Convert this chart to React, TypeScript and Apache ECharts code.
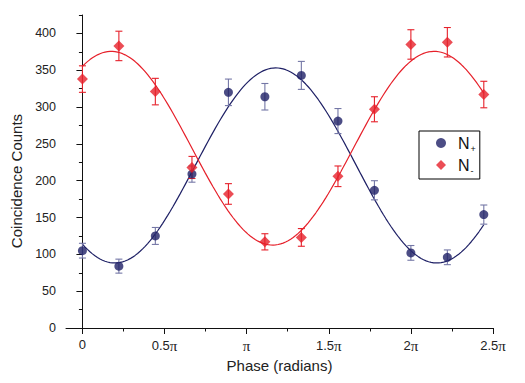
import React, { useEffect, useRef } from "react";
import * as echarts from "echarts";

// Phase in units of π
const phase = [0, 0.222, 0.444, 0.667, 0.889, 1.111, 1.333, 1.556, 1.778, 2.0, 2.222, 2.444];
const nPlus = [105, 84, 125, 209, 320, 314, 343, 281, 187, 102, 96, 154];
const nPlusErr = [10, 9.5, 11.5, 11, 18, 18, 19, 17, 13, 10, 10, 13];
const nMinus = [338, 383, 321, 218, 182, 117, 123, 206, 297, 385, 388, 317];
const nMinusErr = [18, 20, 18, 15, 14, 11, 12, 14, 17, 20, 20, 18];
const xTickValues = [0, 0.5, 1, 1.5, 2, 2.5];
const xTickLabels = ["0", "0.5π", "π", "1.5π", "2π", "2.5π"];
const xMinorValues = [0.25, 0.75, 1.25, 1.75, 2.25];
const yTickValues = [0, 50, 100, 150, 200, 250, 300, 350, 400];
const yMinorValues = [25, 75, 125, 175, 225, 275, 325, 375, 425];

const BLUE = "#1f2166";
const BLUE_ERR = "#7477a6";
const RED = "#e6202a";
const FONT = "Liberation Sans, Arial, sans-serif";
const SERIF = "Liberation Serif, Times New Roman, serif";

function solve3(M: number[][], v: number[]): number[] {
  const det = (m: number[][]) =>
    m[0][0] * (m[1][1] * m[2][2] - m[1][2] * m[2][1]) -
    m[0][1] * (m[1][0] * m[2][2] - m[1][2] * m[2][0]) +
    m[0][2] * (m[1][0] * m[2][1] - m[1][1] * m[2][0]);
  const D = det(M);
  const res: number[] = [];
  for (let c = 0; c < 3; c++) {
    const m = M.map((row, r) => row.map((val, j) => (j === c ? v[r] : val)));
    res.push(det(m) / D);
  }
  return res;
}

// Weighted least-squares sinusoid fit y = a + b cos(kπx) + c sin(kπx), scanning k
function fitSine(xs: number[], ys: number[], errs: number[]) {
  let best: { k: number; p: number[]; sse: number } | null = null;
  for (let k = 0.8; k <= 1.3; k += 0.0005) {
    const M = [[0, 0, 0], [0, 0, 0], [0, 0, 0]];
    const v = [0, 0, 0];
    xs.forEach((x, i) => {
      const w = 1 / (errs[i] * errs[i]);
      const f = [1, Math.cos(k * Math.PI * x), Math.sin(k * Math.PI * x)];
      for (let a = 0; a < 3; a++) {
        for (let b = 0; b < 3; b++) M[a][b] += w * f[a] * f[b];
        v[a] += w * f[a] * ys[i];
      }
    });
    const p = solve3(M, v);
    let sse = 0;
    xs.forEach((x, i) => {
      const y = p[0] + p[1] * Math.cos(k * Math.PI * x) + p[2] * Math.sin(k * Math.PI * x);
      sse += ((y - ys[i]) / errs[i]) ** 2;
    });
    if (!best || sse < best.sse) best = { k, p, sse };
  }
  return best!;
}

function fitCurve(xs: number[], ys: number[], errs: number[]) {
  const { k, p } = fitSine(xs, ys, errs);
  const x0 = xs[0];
  const x1 = xs[xs.length - 1];
  const out: number[][] = [];
  const n = 160;
  for (let i = 0; i <= n; i++) {
    const x = x0 + ((x1 - x0) * i) / n;
    out.push([x, p[0] + p[1] * Math.cos(k * Math.PI * x) + p[2] * Math.sin(k * Math.PI * x)]);
  }
  return out;
}

function errorSeries(ys: number[], errs: number[], color: string) {
  return {
    type: "custom",
    silent: true,
    z: 2,
    data: phase.map((x, i) => [x, ys[i] - errs[i], ys[i] + errs[i]]),
    renderItem: (_params: any, api: any) => {
      const x = api.value(0);
      const lo = api.coord([x, api.value(1)]);
      const hi = api.coord([x, api.value(2)]);
      const hw = 3.5;
      const style = { stroke: color, lineWidth: 1.1 };
      return {
        type: "group",
        children: [
          { type: "line", shape: { x1: lo[0], y1: lo[1], x2: hi[0], y2: hi[1] }, style },
          { type: "line", shape: { x1: lo[0] - hw, y1: lo[1], x2: lo[0] + hw, y2: lo[1] }, style },
          { type: "line", shape: { x1: hi[0] - hw, y1: hi[1], x2: hi[0] + hw, y2: hi[1] }, style },
        ],
      };
    },
  };
}

function piLabel(v: number) {
  const idx = xTickValues.findIndex((t) => Math.abs(t - v) < 1e-6);
  if (idx < 0) return "";
  const s = xTickLabels[idx];
  if (!s.endsWith("π")) return `{a|${s}}`;
  const num = s.slice(0, -1);
  return num ? `{a|${num}}{p|π}` : `{p|π}`;
}

export default function App() {
  const ref = useRef<HTMLDivElement>(null);
  useEffect(() => {
    if (!ref.current) return;
    const chart = echarts.init(ref.current, null, { renderer: "svg" });
    const axisLine = { show: true, lineStyle: { color: "#111", width: 1 } };
    const option: any = {
      animation: false,
      textStyle: { fontFamily: FONT },
      grid: { left: 66, right: 32, top: 15, bottom: 55 },
      legend: {
        orient: "vertical",
        left: 419,
        top: 131,
        borderColor: "#000",
        borderWidth: 1,
        padding: [4, 4, 4, 17],
        itemGap: 4,
        itemWidth: 10,
        itemHeight: 10,
        data: [
          { name: "N+", icon: "circle" },
          { name: "N-", icon: "diamond" },
        ],
        formatter: (name: string) => `{n|N}{s|${name.slice(1)}}`,
        textStyle: {
          rich: {
            n: { fontSize: 16, lineHeight: 20, color: "#111", fontFamily: FONT, padding: [0, 0, 0, 7] },
            s: { fontSize: 9, lineHeight: 6, color: "#111", fontFamily: FONT, verticalAlign: "bottom", padding: [0, 0, 0, 1] },
          },
        },
      },
      xAxis: [
        {
          type: "value",
          min: -0.1,
          max: 2.5,
          axisLine,
          splitLine: { show: false },
          axisTick: { show: true, customValues: xTickValues, length: 6, lineStyle: { color: "#111" } },
          axisLabel: {
            customValues: xTickValues,
            formatter: piLabel,
            color: "#222",
            margin: 10,
            rich: {
              a: { fontSize: 13, color: "#222", fontFamily: FONT },
              p: { fontSize: 15, color: "#222", fontFamily: SERIF },
            },
          },
          name: "Phase (radians)",
          nameLocation: "middle",
          nameGap: 28,
          nameTextStyle: { fontSize: 15, color: "#222" },
        },
        {
          type: "value",
          min: -0.1,
          max: 2.5,
          position: "bottom",
          axisLine: { show: false },
          splitLine: { show: false },
          axisTick: { show: true, customValues: xMinorValues, length: 3.5, lineStyle: { color: "#111" } },
          axisLabel: { show: false },
        },
      ],
      yAxis: [
        {
          type: "value",
          min: 0,
          max: 425,
          axisLine,
          splitLine: { show: false },
          axisTick: { show: true, customValues: yTickValues, length: 6, lineStyle: { color: "#111" } },
          axisLabel: { customValues: yTickValues, fontSize: 12.5, color: "#222", margin: 10 },
          name: "Coincidence Counts",
          nameLocation: "middle",
          nameGap: 40,
          nameTextStyle: { fontSize: 15, color: "#222", padding: [0, 19, 0, 0] },
        },
        {
          type: "value",
          min: 0,
          max: 425,
          position: "left",
          axisLine: { show: false },
          splitLine: { show: false },
          axisTick: { show: true, customValues: yMinorValues, length: 3.5, lineStyle: { color: "#111" } },
          axisLabel: { show: false },
        },
      ],
      series: [
        {
          type: "line",
          name: "fit+",
          data: fitCurve(phase, nPlus, nPlusErr),
          showSymbol: false,
          lineStyle: { color: BLUE, width: 1.2 },
          z: 1,
          silent: true,
        },
        {
          type: "line",
          name: "fit-",
          data: fitCurve(phase, nMinus, nMinusErr),
          showSymbol: false,
          lineStyle: { color: RED, width: 1.2 },
          z: 1,
          silent: true,
        },
        errorSeries(nPlus, nPlusErr, BLUE_ERR),
        errorSeries(nMinus, nMinusErr, RED),
        {
          type: "scatter",
          name: "N+",
          data: phase.map((x, i) => [x, nPlus[i]]),
          symbol: "circle",
          symbolSize: 9,
          itemStyle: { color: BLUE },
          z: 3,
        },
        {
          type: "scatter",
          name: "N-",
          data: phase.map((x, i) => [x, nMinus[i]]),
          symbol: "diamond",
          symbolSize: 11,
          itemStyle: { color: RED },
          z: 3,
        },
      ],
    };
    chart.setOption(option);
    return () => chart.dispose();
  }, []);
  return <div ref={ref} style={{ width: 525, height: 383, position: "absolute", left: 0, top: 0 }} />;
}
